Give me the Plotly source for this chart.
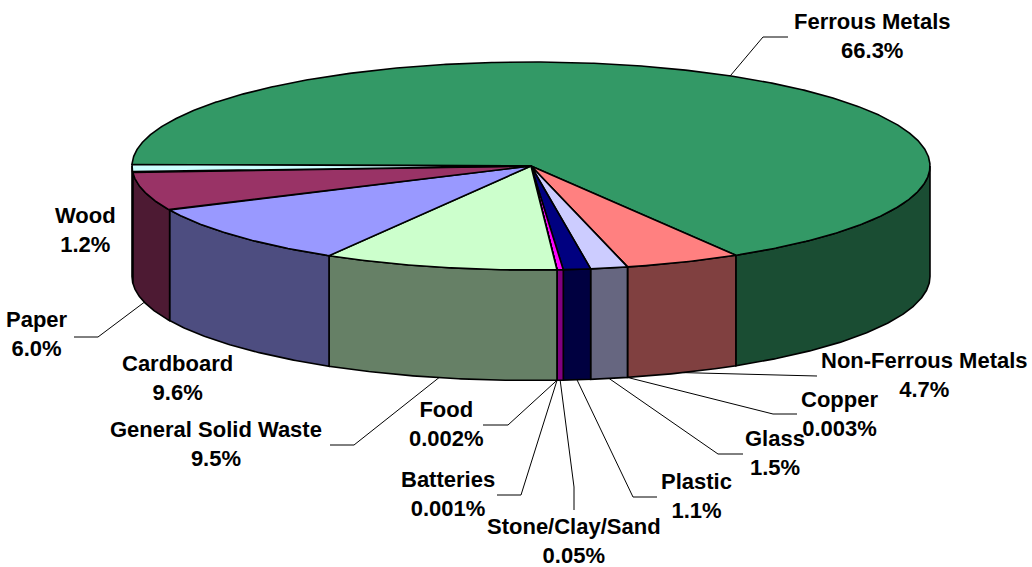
import numpy as np
import plotly.graph_objects as go

# clockwise from the far-left edge of the pie
categories = ["Ferrous Metals", "Non-Ferrous Metals", "Copper", "Glass", "Plastic",
              "Stone/Clay/Sand", "Batteries", "Food", "General Solid Waste",
              "Cardboard", "Paper", "Wood"]
percent_labels = ["66.3%", "4.7%", "0.003%", "1.5%", "1.1%", "0.05%", "0.001%",
                  "0.002%", "9.5%", "9.6%", "6.0%", "1.2%"]
# slice sizes as drawn in the picture
slice_values = [66.3, 4.7, 0.003, 1.5, 1.1, 0.25, 0.001, 0.002, 9.5, 9.6, 6.0, 1.2]
top_colors = ["#339966", "#FF8080", "#800000", "#CCCCFF", "#000080", "#FF00FF",
              "#800080", "#993300", "#CCFFCC", "#9999FF", "#993366", "#CCFFFF"]
side_colors = ["#1A4D33", "#804040", "#400000", "#666680", "#000040", "#800080",
               "#400040", "#4D1A00", "#668066", "#4D4D80", "#4D1A33", "#668080"]

# label block centres and leader-line elbows
label_x = [872, 924, 839, 775, 696, 574, 448, 446, 216, 177, 37, 85]
label_y = [36, 375, 414, 453, 496, 541, 494, 424, 444, 378, 334, 230]
leader_paths = [[(763, 37), (788, 37)], [(817, 376)], [(773, 414), (797, 414)],
                [(718, 454), (743, 454)], [(633, 497), (657, 497)],
                [(574, 487), (574, 510)], [(521, 495), (497, 495)],
                [(508, 425), (483, 425)], [(354, 445), (330, 445)], None,
                [(98, 337), (74, 337)], None]

CX, CY, RX, RY, DEPTH = 531.0, 166.0, 399.0, 104.0, 110.5
START_DEG = 179.2
LINE = dict(color="black", width=1.6)


def ellipse(t_deg, dy=0.0):
    t = np.radians(t_deg)
    return CX + RX * np.cos(t), CY - RY * np.sin(t) + dy


total = sum(slice_values)
sweeps = [v / total * 360 for v in slice_values]
starts = START_DEG - np.concatenate([[0], np.cumsum(sweeps)[:-1]])
ends = starts - np.array(sweeps)

fig = go.Figure()

# side walls (only the part facing the viewer, angles in -180..0)
for a0, a1, col in zip(starts, ends, side_colors):
    hi, lo = min(a0, 0.0), max(a1, -180.0)
    if hi <= lo:
        continue
    ts = np.linspace(hi, lo, max(int((hi - lo) * 3), 2))
    xt, yt = ellipse(ts)
    xb, yb = ellipse(ts[::-1], DEPTH)
    fig.add_trace(go.Scatter(x=np.r_[xt, xb, xt[0]], y=np.r_[yt, yb, yt[0]], mode="lines",
                             fill="toself", fillcolor=col, line=LINE, hoverinfo="skip",
                             showlegend=False))

# top face
for a0, a1, col, name in zip(starts, ends, top_colors, categories):
    ts = np.linspace(a0, a1, max(int((a0 - a1) * 3), 2))
    xt, yt = ellipse(ts)
    fig.add_trace(go.Scatter(x=np.r_[CX, xt, CX], y=np.r_[CY, yt, CY], mode="lines",
                             fill="toself", fillcolor=col, line=LINE, name=name,
                             showlegend=False))

# leader lines start at each slice's mid-angle on the rim
for a0, a1, path in zip(starts, ends, leader_paths):
    if path is None:
        continue
    mid = (a0 + a1) / 2
    sx, sy = ellipse(mid, DEPTH if np.sin(np.radians(mid)) < 0 else 0.0)
    xs = [sx] + [p[0] for p in path]
    ys = [sy] + [p[1] for p in path]
    fig.add_trace(go.Scatter(x=xs, y=ys, mode="lines", line=dict(color="black", width=1),
                             hoverinfo="skip", showlegend=False))

for name, pct, lx, ly in zip(categories, percent_labels, label_x, label_y):
    fig.add_annotation(x=lx, y=ly, text=f"<b>{name}</b><br><b>{pct}</b>", showarrow=False,
                       xanchor="center", yanchor="middle", align="center",
                       font=dict(family="Liberation Sans, Arial, sans-serif", size=22,
                                 color="black"))

fig.update_layout(width=1032, height=567, margin=dict(l=0, r=0, t=0, b=0),
                  paper_bgcolor="white", plot_bgcolor="white",
                  xaxis=dict(range=[0, 1032], visible=False, fixedrange=True),
                  yaxis=dict(range=[567, 0], visible=False, fixedrange=True))
fig.write_html("out.html", config={"displayModeBar": False},
               post_script="document.body.style.margin='0';document.body.style.overflow='hidden';")
